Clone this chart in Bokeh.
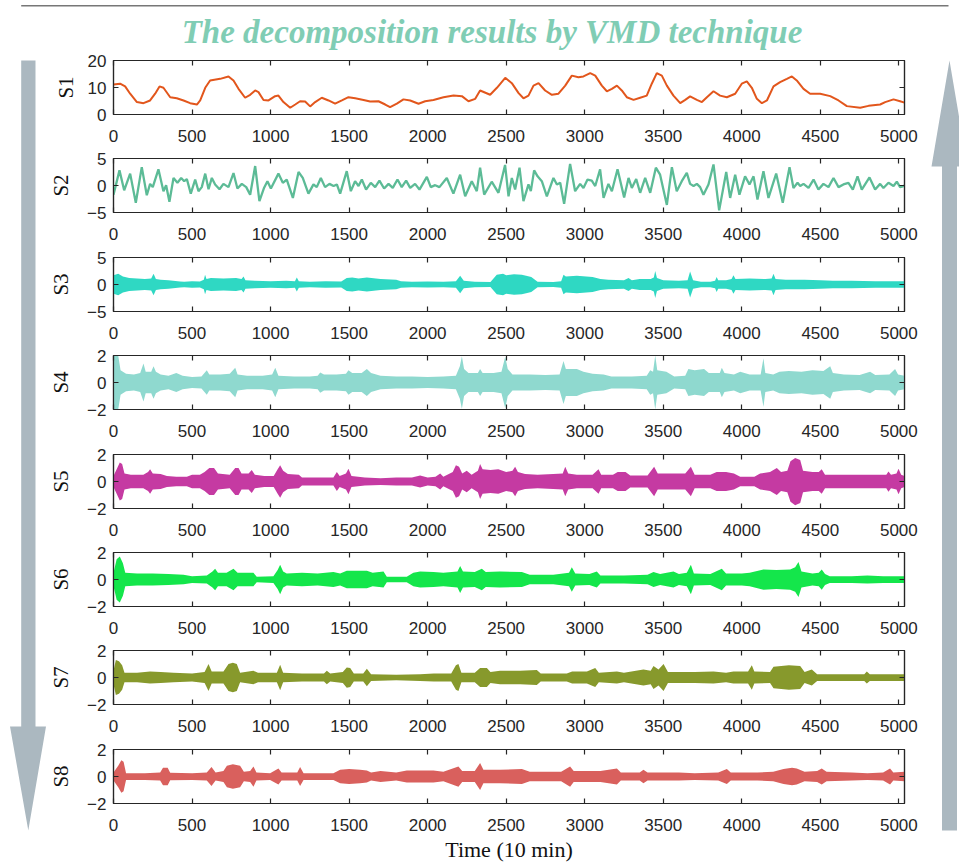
from bokeh.plotting import figure
from bokeh.layouts import row, column
from bokeh.models import Range1d, FixedTicker, LinearAxis
from bokeh.embed import file_html
from bokeh.resources import INLINE
from bokeh.core.properties import value

# ---------------- data ----------------
TITLE = "The decomposition results by VMD technique"
X_LABEL = "Time (10 min)"
NAMES = ["S1", "S2", "S3", "S4", "S5", "S6", "S7", "S8"]
X_MAX = 5036
X_TICKS = [0, 500, 1000, 1500, 2000, 2500, 3000, 3500, 4000, 4500, 5000]
Y_LIMITS = [(0, 20), (-5, 5), (-5, 5), (-2, 2), (-2, 2), (-2, 2), (-2, 2), (-2, 2)]
Y_TICKS = [[0, 10, 20], [-5, 0, 5], [-5, 0, 5], [-2, 0, 2], [-2, 0, 2], [-2, 0, 2], [-2, 0, 2], [-2, 0, 2]]
COLORS = ["#e2561c", "#5cbb96", "#2fd8c3", "#8fd9cf", "#c53aa2", "#14e64b", "#87992c", "#d9605d"]

S1_X = [0, 42, 74, 106, 149, 191, 233, 265, 293, 318, 361, 403, 446, 488, 531, 552, 584, 615, 679, 732,
        764, 796, 838, 870, 902, 923, 955, 987, 1029, 1050, 1082, 1125, 1157, 1188, 1220, 1252, 1284, 1326,
        1369, 1411, 1454, 1496, 1539, 1592, 1634, 1687, 1730, 1761, 1804, 1846, 1889, 1942, 1984, 2037,
        2101, 2165, 2218, 2260, 2303, 2334, 2398, 2441, 2494, 2536, 2579, 2610, 2642, 2674, 2706, 2748,
        2791, 2833, 2876, 2918, 2960, 2992, 3035, 3067, 3109, 3141, 3173, 3205, 3236, 3268, 3311, 3353,
        3395, 3427, 3459, 3491, 3523, 3565, 3608, 3640, 3671, 3714, 3746, 3778, 3820, 3862, 3905, 3958,
        4000, 4032, 4064, 4096, 4128, 4160, 4202, 4244, 4287, 4319, 4350, 4393, 4435, 4499, 4563, 4616,
        4669, 4754, 4807, 4881, 4913, 4966, 5008, 5036]
S1_Y = [11.1, 11.4, 10.4, 7.7, 4.6, 4.2, 5.2, 7.7, 10.4, 9.9, 6.4, 6.0, 5.2, 4.2, 3.7, 5.2, 9.9, 12.6, 13.2, 14.1,
        12.6, 9.5, 6.2, 7.3, 8.9, 8.3, 5.4, 5.2, 6.8, 7.0, 4.6, 2.5, 3.7, 4.9, 4.8, 3.0, 4.6, 6.2,
        5.2, 4.0, 5.2, 6.4, 6.0, 5.4, 4.8, 4.9, 3.7, 2.7, 4.0, 5.6, 5.2, 4.0, 4.9, 5.4,
        6.4, 7.0, 6.8, 4.9, 5.8, 8.9, 7.3, 9.9, 13.6, 11.6, 7.9, 6.0, 7.0, 10.7, 11.6, 8.9,
        7.3, 7.7, 10.7, 14.4, 13.8, 14.1, 15.3, 14.4, 10.7, 8.6, 9.5, 10.7, 8.9, 6.4, 5.4, 6.2,
        7.0, 11.4, 15.3, 14.4, 10.7, 7.0, 4.2, 5.4, 6.7, 5.4, 4.6, 6.4, 8.6, 7.0, 6.4, 7.7,
        11.4, 12.3, 9.9, 5.8, 4.2, 5.2, 10.4, 12.0, 13.2, 14.1, 12.6, 9.5, 7.7, 7.7, 6.8, 5.2,
        3.1, 2.5, 3.2, 3.7, 4.6, 5.6, 4.9, 4.4]

S2_X = [0, 38, 68, 106, 142, 180, 212, 233, 250, 286, 318, 335, 356, 382, 407, 431, 450, 467, 492, 520,
        541, 562, 584, 605, 626, 647, 675, 700, 732, 764, 789, 817, 845, 870, 902, 929, 959, 980, 1002,
        1050, 1078, 1103, 1142, 1178, 1205, 1241, 1273, 1294, 1320, 1347, 1375, 1401, 1422, 1443, 1485,
        1511, 1538, 1560, 1581, 1608, 1638, 1666, 1693, 1723, 1751, 1778, 1808, 1835, 1863, 1889, 1920,
        1948, 1995, 2020, 2048, 2075, 2122, 2164, 2207, 2239, 2281, 2313, 2334, 2360, 2408, 2451, 2493,
        2515, 2536, 2557, 2585, 2610, 2642, 2657, 2678, 2700, 2727, 2759, 2801, 2823, 2844, 2869, 2907,
        2939, 2971, 2992, 3018, 3045, 3067, 3098, 3120, 3151, 3173, 3209, 3251, 3279, 3300, 3328, 3353,
        3385, 3417, 3453, 3480, 3523, 3555, 3586, 3618, 3650, 3671, 3693, 3714, 3735, 3756, 3788, 3820,
        3856, 3901, 3926, 3958, 3985, 4021, 4049, 4075, 4100, 4138, 4170, 4219, 4261, 4304, 4329, 4355,
        4372, 4393, 4425, 4457, 4488, 4520, 4552, 4584, 4616, 4647, 4679, 4707, 4737, 4764, 4813, 4849,
        4881, 4902, 4934, 4966, 4987, 5008, 5030, 5036]
S2_Y = [-1.7, 2.8, -0.9, 2.2, -3.2, 3.4, -1.8, 0.3, -0.3, 3.0, -1.05, 0.06, -3.0, 1.4, 0.5, 1.4, 0.8, 1.2, -1.5, 1.1,
        -1.05, -0.3, 2.2, -0.7, 1.4, 0.2, -0.7, 0.3, -0.3, 2.3, -0.55, 0.3, -0.3, -1.7, 3.6, -2.9, -0.4, 0.8, -0.55,
        2.2, 0.5, 1.1, -2.3, 2.5, 1.4, -1.5, 0.2, -0.3, 1.4, -0.3, 0.3, -0.1, 0.2, -1.5, 2.65,
        -1.05, 0.8, -0.1, 1.1, -0.75, 0.5, -0.3, 0.9, -0.55, 0.3, -0.45, 1.1, -0.3, 0.9, -0.45, 0.3,
        -0.75, 1.6, -0.3, 0.06, -0.3, 1.4, -1.5, 2.0, -2.0, 0.8, -1.05, 3.3, -1.7, 0.7, -1.35, 3.8,
        -2.0, 1.4, -0.75, 3.3, -2.9, 0.2, -1.05, 2.8, 1.7, 0.8, -2.0, 1.4, 0.2, 0.5, -3.4, 4.0,
        -1.05, 0.3, -0.45, 1.1, 0.9, -0.1, 3.0, -2.3, 0.3, -1.05, 3.0, -2.2, 1.4, -0.45, 1.2, -1.35,
        1.4, -1.35, 3.3, 2.0, -3.6, 3.4, -1.05, 0.8, 2.35, 0.3, -0.1, 0.3, -0.3, -1.7, 0.2, 3.9,
        -4.6, 2.5, -2.3, 2.0, -1.7, 1.7, 0.2, 1.7, -2.6, 2.65, -2.3, 2.2, -3.2, 3.4, -0.45, 0.5,
        -0.1, 0.3, -0.45, 1.1, -0.75, 0.3, -0.3, 1.4, -0.3, 0.2, 0.5, -0.75, 1.7, -0.75, 1.5, -0.75,
        0.3, -0.45, 0.5, -0.1, 0.7, -0.3, -0.1, 0.0]

# envelopes (sample, half-amplitude) of the densely oscillating modes
S3_ENV = [(0, 1.7), (30, 2.0), (60, 1.5), (100, 1.2), (150, 1.1), (200, 1.0), (240, 1.1), (255, 2.0), (270, 1.0),
          (300, 0.9), (350, 0.8), (424, 0.55), (450, 0.5), (500, 0.6), (550, 0.55), (575, 0.9), (583, 1.8),
          (592, 1.0), (620, 1.2), (700, 1.1), (780, 1.2), (815, 1.0), (828, 1.5), (840, 0.8), (900, 0.7),
          (1000, 0.6), (1100, 0.7), (1155, 0.6), (1167, 1.3), (1180, 0.6), (1250, 0.5), (1350, 0.6),
          (1450, 0.55), (1485, 1.2), (1520, 1.3), (1560, 1.1), (1613, 1.3), (1700, 1.0), (1800, 0.9),
          (1830, 0.6), (1900, 0.5), (2000, 0.55), (2100, 0.5), (2180, 0.6), (2207, 1.6), (2230, 0.7),
          (2300, 0.5), (2400, 0.45), (2440, 1.8), (2480, 2.0), (2500, 1.7), (2550, 1.9), (2600, 1.8),
          (2660, 1.4), (2700, 0.5), (2800, 0.45), (2850, 0.6), (2865, 1.8), (2880, 1.5), (2950, 1.6),
          (3050, 1.4), (3100, 1.0), (3150, 0.9), (3250, 0.8), (3279, 1.2), (3300, 0.8), (3350, 1.0),
          (3420, 1.0), (3440, 1.3), (3449, 2.5), (3460, 1.2), (3500, 0.8), (3600, 0.7), (3655, 0.8),
          (3671, 2.4), (3690, 0.8), (3740, 0.5), (3800, 0.5), (3830, 0.7), (3840, 1.4), (3850, 0.8),
          (3900, 0.8), (3935, 1.0), (3947, 1.7), (3960, 1.0), (4050, 1.1), (4150, 1.0), (4190, 1.1),
          (4202, 2.0), (4215, 1.0), (4280, 0.9), (4400, 0.9), (4500, 0.8), (4580, 0.7), (4700, 0.7),
          (4850, 0.6), (5036, 0.6)]
S4_ENV = [(0, 2.0), (30, 2.0), (45, 0.9), (80, 0.65), (130, 0.6), (170, 0.7), (191, 1.4), (205, 0.8), (240, 0.8),
          (255, 1.2), (270, 0.8), (300, 0.6), (350, 0.5), (400, 0.7), (440, 0.5), (500, 0.4), (560, 0.45),
          (594, 0.9), (610, 0.6), (680, 0.6), (740, 0.65), (775, 1.1), (790, 0.6), (850, 0.5), (950, 0.5),
          (1010, 0.6), (1030, 1.1), (1050, 0.5), (1150, 0.45), (1250, 0.45), (1300, 0.5), (1316, 0.75),
          (1340, 0.6), (1420, 0.6), (1480, 0.65), (1496, 0.9), (1520, 0.7), (1580, 0.7), (1613, 1.0),
          (1640, 0.7), (1700, 0.5), (1800, 0.45), (1900, 0.45), (2000, 0.4), (2100, 0.45), (2180, 0.5),
          (2205, 1.2), (2218, 1.95), (2232, 1.0), (2260, 0.7), (2320, 0.7), (2334, 1.0), (2350, 0.7),
          (2420, 0.7), (2470, 0.8), (2494, 1.9), (2510, 1.0), (2540, 0.6), (2650, 0.6), (2750, 0.55),
          (2840, 0.6), (2865, 1.6), (2880, 1.0), (2950, 1.0), (2992, 0.8), (3050, 0.65), (3120, 0.6),
          (3170, 0.45), (3300, 0.45), (3395, 0.5), (3417, 0.9), (3435, 0.8), (3449, 2.0), (3462, 0.9),
          (3520, 0.8), (3570, 0.45), (3640, 0.5), (3660, 1.0), (3700, 0.9), (3760, 1.0), (3790, 0.7),
          (3860, 0.7), (3873, 1.1), (3890, 0.7), (3950, 0.6), (3990, 0.8), (4050, 0.6), (4120, 0.6),
          (4138, 1.8), (4150, 0.7), (4200, 0.6), (4240, 0.8), (4300, 0.85), (4380, 0.8), (4450, 0.9),
          (4520, 0.85), (4563, 1.2), (4580, 0.7), (4650, 0.6), (4750, 0.55), (4817, 0.8), (4850, 0.55),
          (4940, 0.6), (4976, 1.0), (4995, 0.6), (5036, 0.5)]
S5_ENV = [(0, 0.4), (20, 0.9), (40, 1.4), (55, 1.3), (70, 0.6), (110, 0.5), (190, 0.5), (220, 0.7), (233, 0.9),
          (250, 0.6), (300, 0.55), (340, 0.4), (400, 0.35), (467, 0.35), (500, 0.5), (550, 0.5), (580, 0.7),
          (610, 1.0), (640, 1.0), (665, 0.6), (740, 0.5), (775, 1.0), (796, 1.0), (815, 0.6), (860, 0.6),
          (880, 0.85), (900, 0.5), (960, 0.4), (1020, 0.4), (1045, 0.9), (1061, 1.2), (1080, 0.8), (1110, 0.55),
          (1180, 0.5), (1200, 0.3), (1300, 0.3), (1400, 0.3), (1422, 0.7), (1440, 0.4), (1480, 0.6),
          (1496, 0.95), (1515, 0.4), (1600, 0.3), (1700, 0.25), (1800, 0.3), (1900, 0.3), (1952, 0.45),
          (2000, 0.3), (2050, 0.35), (2080, 0.6), (2100, 0.35), (2160, 0.7), (2180, 1.2), (2200, 1.1),
          (2220, 0.6), (2249, 0.8), (2280, 0.5), (2320, 0.8), (2334, 1.3), (2350, 0.9), (2400, 0.85),
          (2450, 0.9), (2500, 0.7), (2540, 0.8), (2557, 1.1), (2575, 0.7), (2620, 0.55), (2700, 0.5),
          (2800, 0.55), (2860, 0.6), (2876, 1.1), (2895, 0.6), (2950, 0.5), (3050, 0.5), (3088, 0.9),
          (3105, 0.5), (3180, 0.5), (3210, 0.7), (3260, 0.7), (3290, 0.45), (3400, 0.45), (3442, 1.1),
          (3465, 0.6), (3550, 0.6), (3640, 0.6), (3676, 1.1), (3700, 0.5), (3800, 0.5), (3840, 0.7),
          (3900, 0.7), (3950, 0.6), (3990, 0.35), (4080, 0.35), (4117, 0.6), (4180, 0.7), (4223, 1.0),
          (4250, 0.7), (4290, 0.8), (4310, 1.5), (4340, 1.75), (4372, 1.6), (4390, 0.8), (4450, 0.7),
          (4490, 0.7), (4509, 0.9), (4530, 0.5), (4700, 0.5), (4850, 0.5), (4920, 0.5), (4934, 0.75),
          (4950, 0.5), (4985, 0.6), (4998, 0.95), (5015, 0.5), (5036, 0.4)]
S6_ENV = [(0, 0.5), (20, 1.5), (40, 1.7), (60, 1.2), (75, 0.5), (150, 0.45), (250, 0.45), (350, 0.4), (446, 0.35),
          (500, 0.25), (594, 0.3), (630, 0.6), (647, 0.8), (665, 0.5), (720, 0.5), (764, 0.8), (790, 0.5),
          (850, 0.5), (891, 0.5), (912, 0.2), (1018, 0.25), (1045, 0.7), (1061, 1.1), (1080, 0.6), (1103, 0.45),
          (1200, 0.5), (1300, 0.45), (1400, 0.55), (1443, 0.45), (1485, 0.65), (1560, 0.65), (1613, 0.65),
          (1650, 0.5), (1719, 0.6), (1740, 0.2), (1867, 0.2), (1909, 0.5), (1952, 0.6), (2037, 0.55),
          (2100, 0.5), (2190, 0.6), (2207, 1.0), (2225, 0.6), (2300, 0.55), (2345, 0.8), (2370, 0.55),
          (2460, 0.6), (2600, 0.55), (2650, 0.35), (2800, 0.35), (2900, 0.5), (2918, 0.9), (2940, 0.45),
          (3030, 0.4), (3077, 0.6), (3100, 0.3), (3250, 0.3), (3400, 0.35), (3438, 0.55), (3480, 0.4),
          (3565, 0.6), (3600, 0.4), (3650, 0.5), (3676, 1.1), (3695, 0.45), (3800, 0.4), (3873, 0.8),
          (3900, 0.45), (4000, 0.45), (4050, 0.5), (4138, 0.75), (4220, 0.7), (4308, 0.75), (4340, 0.9),
          (4361, 1.3), (4380, 0.6), (4450, 0.45), (4490, 0.5), (4509, 0.75), (4530, 0.4), (4560, 0.25),
          (4700, 0.25), (4800, 0.3), (4900, 0.25), (5036, 0.25)]
S7_ENV = [(0, 0.5), (15, 1.3), (35, 1.2), (55, 0.9), (70, 0.35), (150, 0.35), (233, 0.45), (300, 0.4), (382, 0.35),
          (500, 0.3), (580, 0.4), (605, 1.0), (625, 0.45), (700, 0.45), (732, 1.0), (760, 1.1), (785, 1.0),
          (806, 0.35), (891, 0.5), (920, 0.35), (1040, 0.35), (1061, 0.95), (1080, 0.35), (1200, 0.3),
          (1340, 0.3), (1358, 0.5), (1380, 0.3), (1460, 0.4), (1485, 0.75), (1507, 0.7), (1530, 0.3),
          (1590, 0.3), (1613, 0.65), (1640, 0.25), (1800, 0.2), (1952, 0.25), (2040, 0.3), (2150, 0.3),
          (2180, 0.9), (2196, 1.0), (2215, 0.35), (2300, 0.35), (2334, 0.7), (2377, 0.7), (2400, 0.4),
          (2461, 0.5), (2589, 0.5), (2695, 0.55), (2720, 0.3), (2886, 0.3), (2920, 0.45), (3014, 0.45),
          (3067, 0.7), (3090, 0.35), (3205, 0.45), (3250, 0.35), (3374, 0.6), (3420, 0.5), (3438, 0.85),
          (3470, 0.6), (3502, 1.0), (3530, 0.4), (3700, 0.4), (3820, 0.45), (3900, 0.35), (3947, 0.45),
          (4040, 0.45), (4064, 0.9), (4080, 0.45), (4180, 0.4), (4202, 0.8), (4300, 0.9), (4372, 0.85),
          (4400, 0.4), (4446, 0.6), (4480, 0.25), (4600, 0.25), (4780, 0.25), (4796, 0.45), (4815, 0.25),
          (5036, 0.25)]
S8_ENV = [(0, 0.3), (30, 0.8), (50, 1.2), (64, 1.1), (80, 0.25), (200, 0.25), (297, 0.3), (315, 0.65), (345, 0.65),
          (361, 0.28), (500, 0.25), (594, 0.3), (624, 0.7), (650, 0.3), (700, 0.4), (722, 0.8), (760, 0.9),
          (806, 0.8), (830, 0.35), (870, 0.4), (891, 0.75), (910, 0.3), (997, 0.25), (1050, 0.6), (1070, 0.3),
          (1170, 0.3), (1188, 0.7), (1210, 0.25), (1400, 0.25), (1443, 0.5), (1500, 0.55), (1570, 0.5),
          (1613, 0.45), (1640, 0.3), (1700, 0.4), (1800, 0.3), (1867, 0.45), (1950, 0.45), (2037, 0.45),
          (2100, 0.35), (2196, 0.75), (2220, 0.4), (2300, 0.4), (2334, 1.0), (2355, 0.5), (2460, 0.5),
          (2600, 0.55), (2650, 0.35), (2850, 0.35), (2907, 0.75), (2930, 0.4), (3100, 0.4), (3205, 0.6),
          (3230, 0.3), (3350, 0.3), (3374, 0.5), (3400, 0.3), (3600, 0.3), (3700, 0.25), (3850, 0.3),
          (3905, 0.55), (3930, 0.3), (4100, 0.3), (4200, 0.35), (4266, 0.55), (4320, 0.65), (4350, 0.6),
          (4400, 0.35), (4480, 0.4), (4509, 0.6), (4540, 0.35), (4700, 0.3), (4800, 0.25), (4900, 0.3),
          (4944, 0.6), (4965, 0.3), (5036, 0.35)]
ENVELOPES = [S3_ENV, S4_ENV, S5_ENV, S6_ENV, S7_ENV, S8_ENV]

# ---------------- styling / layout ----------------
AX = "#262626"
SANS = "Liberation Sans"
SERIF = "Liberation Serif"
ARROW = "#abb8c0"
RULE = "#777777"
TITLE_COLOR = "#80cdb4"

W = 959
H = 867
LEFT_W = 46
RIGHT_W = 34
MID_W = W - LEFT_W - RIGHT_W
TOP_H = 52
FRAME_H = 54
PANEL_H = [98, 99, 98, 99, 98, 98, 99, 126]
BORDER_TOP = 8
BORDER_LEFT = 67
BORDER_RIGHT = MID_W - BORDER_LEFT - 791
YLABEL_STANDOFF = [7, 11, 11, 11, 11, 11, 11, 11]


def deco_figure(w, h, x0, x1, y_bottom, y_top):
    p = figure(width=w, height=h, output_backend="svg", toolbar_location=None,
               x_range=Range1d(x0, x1), y_range=Range1d(y_bottom, y_top),
               x_axis_location=None, y_axis_location=None,
               min_border=0, min_border_left=0, min_border_right=0,
               min_border_top=0, min_border_bottom=0)
    p.grid.visible = False
    p.outline_line_color = None
    return p


def style_axis(ax, labels=True):
    ax.major_tick_in = 5
    ax.major_tick_out = 0
    ax.minor_tick_in = 0
    ax.minor_tick_out = 0
    ax.axis_line_color = AX
    ax.axis_line_width = 1.2
    ax.major_tick_line_color = AX
    ax.major_tick_line_width = 1.2
    ax.major_label_text_font = SANS
    ax.major_label_text_color = AX
    if labels:
        ax.major_label_text_font_size = "17px"
    else:
        ax.major_label_text_font_size = "1px"
        ax.major_label_text_alpha = 0
        ax.major_label_standoff = 0


def make_panel(i):
    h = PANEL_H[i]
    last = i == len(NAMES) - 1
    p = figure(width=MID_W, height=h, output_backend="svg", toolbar_location=None,
               x_range=Range1d(0, X_MAX), y_range=Range1d(*Y_LIMITS[i]),
               min_border_left=BORDER_LEFT, min_border_right=BORDER_RIGHT,
               min_border_top=BORDER_TOP, min_border_bottom=h - BORDER_TOP - FRAME_H)
    p.grid.visible = False
    p.outline_line_color = AX
    p.outline_line_width = 1.2
    xa = p.xaxis[0]
    xa.ticker = FixedTicker(ticks=X_TICKS)
    style_axis(xa)
    xa.major_label_standoff = 15
    if last:
        xa.axis_label = X_LABEL
        xa.axis_label_text_font = SERIF
        xa.axis_label_text_font_style = "normal"
        xa.axis_label_text_font_size = "22px"
        xa.axis_label_text_color = "#111111"
        xa.axis_label_standoff = 3
    ya = p.yaxis[0]
    ya.ticker = FixedTicker(ticks=Y_TICKS[i])
    style_axis(ya)
    ya.major_label_standoff = 7
    ya.axis_label = NAMES[i]
    ya.axis_label_text_font = SERIF
    ya.axis_label_text_font_style = "normal"
    ya.axis_label_text_font_size = "21px"
    ya.axis_label_text_color = "#111111"
    ya.axis_label_standoff = YLABEL_STANDOFF[i]
    top = LinearAxis(ticker=FixedTicker(ticks=X_TICKS))
    style_axis(top, labels=False)
    p.add_layout(top, "above")
    right = LinearAxis(ticker=FixedTicker(ticks=Y_TICKS[i]))
    style_axis(right, labels=False)
    p.add_layout(right, "right")

    color = COLORS[i]
    if i == 0:
        p.line(S1_X, S1_Y, line_color=color, line_width=2)
    elif i == 1:
        p.line(S2_X, S2_Y, line_color=color, line_width=2.3)
    else:
        env = ENVELOPES[i - 2]
        xs = [e[0] for e in env]
        up = [e[1] for e in env]
        lo = [-e[1] for e in env]
        p.varea(x=xs, y1=lo, y2=up, fill_color=color)
    return p


# title strip across the whole width (pixel-like coordinates, y downwards)
top = deco_figure(W, TOP_H, 0, W, TOP_H, 0)
top.segment(x0=20.7, y0=5.3, x1=948, y1=5.3, line_color=RULE, line_width=1.5)
top.text(x=[491.5], y=[31.5], text=[TITLE], text_font=value(SERIF), text_font_style="bold italic",
         text_font_size="33px", text_color=TITLE_COLOR, text_align="center", text_baseline="alphabetic")

# left arrow (pointing down)
left = deco_figure(LEFT_W, H - TOP_H, 0, LEFT_W, H, TOP_H)
left.patch([20.7, 35.0, 35.0, 45.5, 27.8, 9.5, 20.7, 20.7],
           [60, 60, 726, 726, 830, 726, 726, 60], fill_color=ARROW, line_color=None)

# right arrow (pointing up)
right = deco_figure(RIGHT_W, H - TOP_H, W - RIGHT_W, W, H, TOP_H)
right.patch([941.5, 956.5, 956.5, 967.0, 949.0, 931.0, 941.5, 941.5],
            [830, 830, 166, 166, 60, 166, 166, 830], fill_color=ARROW, line_color=None)

panels = [make_panel(i) for i in range(len(NAMES))]
middle = column(panels, spacing=0)
body = row([left, middle, right], spacing=0)
layout = column([top, body], spacing=0)

open("out.html", "w").write(file_html(layout, INLINE))
